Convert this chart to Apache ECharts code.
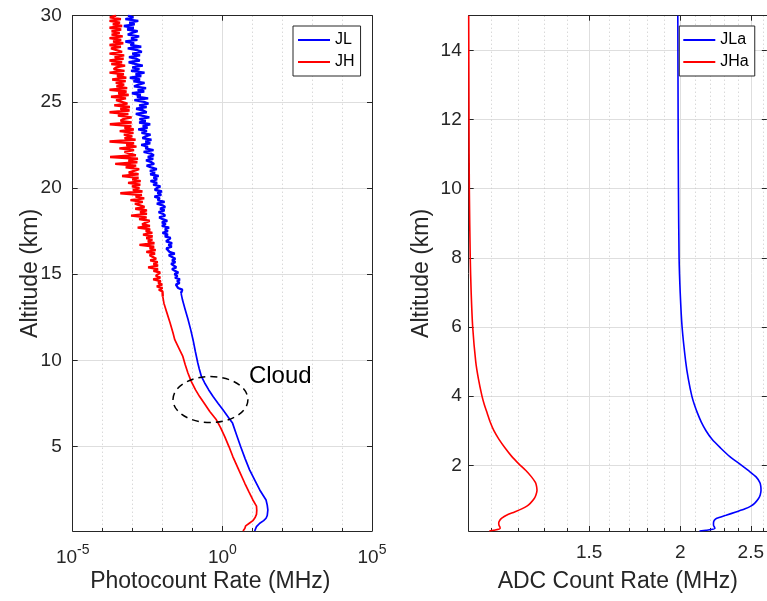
<!DOCTYPE html>
<html><head><meta charset="utf-8">
<script src="https://cdn.jsdelivr.net/npm/echarts@6/dist/echarts.min.js"></script>
<style>html,body{margin:0;padding:0;background:#fff}#c{width:767px;height:601px}</style>
</head><body><div id="c"></div><script>
// ---------- Left panel: photocount rate (MHz), values stored as log10 exponents ----------
const jlAltLow = [0.1,0.2,0.35,0.45,0.55,0.7,0.84,1.0,1.32,1.6,1.9,2.48,3.0,3.65,4.3,5.0,5.7,6.36,6.6,7.13,7.5,7.9,8.3,8.69,9.07,9.5,9.85,10.5,11.2,11.8,12.4,13.0,13.5,13.9];
const jlLog10Low = [1.08,1.11,1.14,1.17,1.25,1.38,1.46,1.50,1.52,1.50,1.46,1.25,1.10,0.91,0.76,0.61,0.47,0.34,0.24,0.02,-0.14,-0.31,-0.46,-0.59,-0.70,-0.77,-0.82,-0.90,-0.98,-1.06,-1.15,-1.25,-1.33,-1.38];
const jhAltLow = [0.1,0.25,0.4,0.55,0.7,0.9,1.06,1.3,1.54,1.9,2.4,2.87,3.6,4.42,5.0,5.58,6.1,6.55,7.03,7.5,7.9,8.3,8.78,9.27,9.75,10.23,10.7,11.2,11.6,12.2,12.8,13.3,13.7];
const jhLog10Low = [0.69,0.75,0.78,0.90,1.02,1.10,1.14,1.15,1.14,1.02,0.88,0.75,0.56,0.35,0.22,0.08,-0.06,-0.20,-0.42,-0.60,-0.76,-0.90,-1.04,-1.15,-1.24,-1.32,-1.45,-1.59,-1.65,-1.75,-1.86,-1.95,-1.99];
const altHigh = [14.0,14.1,14.2,14.3,14.4,14.5,14.6,14.7,14.8,14.9,15.0,15.1,15.2,15.3,15.4,15.5,15.6,15.7,15.8,15.9,16.0,16.1,16.2,16.3,16.4,16.5,16.6,16.7,16.8,16.9,17.0,17.1,17.2,17.3,17.4,17.5,17.6,17.7,17.8,17.9,18.0,18.1,18.2,18.3,18.4,18.5,18.6,18.7,18.8,18.9,19.0,19.1,19.2,19.3,19.4,19.5,19.6,19.7,19.8,19.9,20.0,20.1,20.2,20.3,20.4,20.5,20.6,20.7,20.8,20.9,21.0,21.1,21.2,21.3,21.4,21.5,21.6,21.7,21.8,21.9,22.0,22.1,22.2,22.3,22.4,22.5,22.6,22.7,22.8,22.9,23.0,23.1,23.2,23.3,23.4,23.5,23.6,23.7,23.8,23.9,24.0,24.1,24.2,24.3,24.4,24.5,24.6,24.7,24.8,24.9,25.0,25.1,25.2,25.3,25.4,25.5,25.6,25.7,25.8,25.9,26.0,26.1,26.2,26.3,26.4,26.5,26.6,26.7,26.8,26.9,27.0,27.1,27.2,27.3,27.4,27.5,27.6,27.7,27.8,27.9,28.0,28.1,28.2,28.3,28.4,28.5,28.6,28.7,28.8,28.9,29.0,29.1,29.2,29.3,29.4,29.5,29.6,29.7,29.8,29.9,30.0];
const jlLog10High = [
-1.40,-1.34,-1.48,-1.42,-1.55,-1.43,-1.51,-1.42,-1.58,-1.50,
-1.60,-1.47,-1.59,-1.68,-1.54,-1.60,-1.71,-1.57,-1.68,-1.57,
-1.63,-1.79,-1.59,-1.77,-1.72,-1.87,-1.69,-1.80,-1.68,-1.88,
-1.82,-1.73,-1.92,-1.82,-2.00,-1.82,-1.92,-1.78,-2.02,-1.89,
-2.02,-1.84,-1.99,-2.11,-1.91,-1.98,-2.13,-1.93,-2.08,-1.91,
-2.00,-2.19,-1.93,-2.16,-2.09,-2.27,-2.04,-2.17,-2.02,-2.26,
-2.18,-2.07,-2.31,-2.18,-2.40,-2.18,-2.30,-2.13,-2.41,-2.25,
-2.42,-2.19,-2.38,-2.53,-2.28,-2.37,-2.55,-2.31,-2.49,-2.29,
-2.39,-2.63,-2.30,-2.57,-2.49,-2.71,-2.41,-2.57,-2.37,-2.67,
-2.56,-2.40,-2.70,-2.52,-2.81,-2.50,-2.66,-2.41,-2.78,-2.56,
-2.77,-2.44,-2.69,-2.89,-2.53,-2.64,-2.88,-2.53,-2.78,-2.47,
-2.62,-2.94,-2.48,-2.85,-2.73,-3.02,-2.61,-2.83,-2.55,-2.95,
-2.80,-2.60,-2.97,-2.75,-3.09,-2.71,-2.90,-2.60,-3.05,-2.77,
-3.01,-2.66,-2.92,-3.13,-2.76,-2.87,-3.12,-2.75,-3.01,-2.69,
-2.85,-3.16,-2.71,-3.07,-2.95,-3.24,-2.84,-3.05,-2.78,-3.16,
-3.02,-2.83,-3.18,-2.96,-3.29,-2.93,-3.11,-2.81,-3.24,-2.97,
-3.15];
const jhLog10High = [
-2.00,-2.12,-2.00,-2.19,-2.01,-2.14,-2.06,-2.31,-2.07,-2.22,
-2.21,-2.08,-2.30,-2.15,-2.48,-2.15,-2.30,-2.16,-2.41,-2.21,
-2.20,-2.43,-2.25,-2.54,-2.23,-2.43,-2.28,-2.77,-2.27,-2.49,
-2.34,-2.54,-2.33,-2.65,-2.34,-2.56,-2.41,-2.83,-2.42,-2.68,
-2.64,-2.43,-2.78,-2.53,-3.05,-2.52,-2.75,-2.52,-2.91,-2.60,
-2.58,-2.92,-2.66,-3.07,-2.61,-2.90,-2.69,-3.41,-2.67,-2.99,
-2.77,-3.02,-2.74,-3.15,-2.73,-3.01,-2.80,-3.35,-2.80,-3.13,
-3.07,-2.78,-3.23,-2.88,-3.58,-2.84,-3.14,-2.82,-3.75,-2.89,
-2.87,-3.27,-2.95,-3.44,-2.87,-3.21,-2.95,-3.77,-2.90,-3.27,
-3.01,-3.29,-2.97,-3.43,-2.96,-3.27,-3.04,-3.76,-3.03,-3.40,
-3.32,-3.03,-3.49,-3.14,-3.77,-3.10,-3.41,-3.09,-3.61,-3.17,
-3.15,-3.55,-3.22,-3.72,-3.13,-3.48,-3.20,-3.77,-3.18,-3.54,
-3.28,-3.56,-3.23,-3.68,-3.21,-3.52,-3.29,-3.77,-3.27,-3.63,
-3.55,-3.25,-3.71,-3.35,-3.77,-3.30,-3.60,-3.28,-3.77,-3.35,
-3.32,-3.72,-3.39,-3.77,-3.31,-3.65,-3.38,-3.77,-3.33,-3.70,
-3.43,-3.70,-3.38,-3.77,-3.35,-3.66,-3.42,-3.77,-3.39,-3.76,
-3.55];

// ---------- Right panel: ADC count rate (MHz) ----------
const adcAlt = [0.1,0.12,0.17,0.22,0.265,0.33,0.41,0.47,0.555,0.65,0.74,0.82,0.9,1.04,1.15,1.28,1.4,1.5,1.665,1.85,2.05,2.25,2.5,2.75,3.0,3.25,3.5,3.75,4,4.5,5,6,7,8,10,12,15];
const jlaValues = [2.126,2.171,2.232,2.228,2.222,2.222,2.228,2.245,2.312,2.385,2.455,2.5,2.53,2.562,2.576,2.582,2.58,2.573,2.542,2.48,2.411,2.34,2.272,2.212,2.17,2.138,2.113,2.092,2.075,2.052,2.035,2.012,2.0,1.993,1.989,1.987,1.985];
const jhaValues = [1.094,1.109,1.132,1.131,1.128,1.127,1.131,1.138,1.155,1.185,1.212,1.232,1.245,1.261,1.268,1.272,1.27,1.266,1.25,1.228,1.2,1.175,1.15,1.128,1.11,1.097,1.087,1.077,1.069,1.057,1.048,1.038,1.033,1.03,1.027,1.026,1.025];

// ---------- Ticks ----------
const leftXTickExps = [-5, 0, 5];
const leftXMinorExps = [-4, -3, -2, -1, 1, 2, 3, 4];
const leftYTicks = [5, 10, 15, 20, 25, 30];
const rightXTicks = [1.5, 2, 2.5];
const rightXMinor = [1.1, 1.2, 1.3, 1.4, 1.6, 1.7, 1.8, 1.9, 2.1, 2.2, 2.3, 2.4, 2.6];
const rightYTicks = [2, 4, 6, 8, 10, 12, 14];

// ---------- Cloud annotation (data coords) ----------
const cloudXRange = [0.0224, 7.16];
const cloudAltRange = [6.39, 9.06];

const AX = '#262626';
const FONT = '"Liberation Sans", Arial, Helvetica, sans-serif';
const GRID_MAJOR = '#dedede';
const GRID_MINOR = '#c8c8c8';

function toPairs(alts, logs) { return alts.map((a, i) => [Math.pow(10, logs[i]), a]); }
const jlLowData = toPairs(jlAltLow, jlLog10Low);
const jhLowData = toPairs(jhAltLow, jhLog10Low);
// the noisy upper part starts from the last smooth point so the profile stays continuous
const jlHighData = [jlLowData[jlLowData.length - 1]].concat(toPairs(altHigh, jlLog10High));
const jhHighData = [jhLowData[jhLowData.length - 1]].concat(toPairs(altHigh, jhLog10High));
const jlaData = adcAlt.map((a, i) => [jlaValues[i], a]);
const jhaData = adcAlt.map((a, i) => [jhaValues[i], a]);

const leftXTicks = leftXTickExps.map(e => Math.pow(10, e));
const leftXMinor = leftXMinorExps.map(e => Math.pow(10, e));

const axisLine = { show: true, onZero: false, lineStyle: { color: AX, width: 1 } };
const tickStyle = { color: AX, width: 1 };

function mainX(grid, min, max, ticks, name, labelOpt, nameOpt) {
  return {
    type: 'log', logBase: 10, gridIndex: grid, position: 'bottom', min: min, max: max,
    axisLine: axisLine,
    axisTick: { show: true, inside: true, length: 5, customValues: ticks, lineStyle: tickStyle },
    axisLabel: Object.assign({ show: true, customValues: ticks, color: AX, fontSize: 19, fontFamily: FONT, margin: 12, hideOverlap: false, showMinLabel: true, showMaxLabel: true }, labelOpt),
    splitLine: { show: true, lineStyle: { color: GRID_MAJOR, width: 1 } },
    minorTick: { show: false }, splitArea: { show: false },
    name: name, nameLocation: 'middle', nameGap: 39, nameMoveOverlap: false,
    nameTextStyle: Object.assign({ color: AX, fontSize: 23, fontFamily: FONT }, nameOpt)
  };
}
function topX(grid, min, max, ticks) {
  return { type: 'log', logBase: 10, gridIndex: grid, position: 'top', min: min, max: max,
    axisLine: axisLine,
    axisTick: { show: true, inside: true, length: 5, customValues: ticks, lineStyle: tickStyle },
    axisLabel: { show: false }, splitLine: { show: false } };
}
function minorX(grid, min, max, ticks) {
  return { type: 'log', logBase: 10, gridIndex: grid, position: 'bottom', min: min, max: max,
    axisLine: { show: false },
    axisTick: { show: true, inside: true, length: 3, customValues: ticks, lineStyle: tickStyle },
    axisLabel: { show: false },
    splitLine: { show: true, lineStyle: { color: GRID_MINOR, width: 1, type: [1, 3] } } };
}
function mainY(grid, max, ticks, gap, margin) {
  return { type: 'value', gridIndex: grid, position: 'left', min: 0.1, max: max,
    axisLine: axisLine,
    axisTick: { show: true, inside: true, length: 5, customValues: ticks, lineStyle: tickStyle },
    axisLabel: { show: true, customValues: ticks, color: AX, fontSize: 19, fontFamily: FONT, margin: margin },
    splitLine: { show: true, lineStyle: { color: GRID_MAJOR, width: 1 } },
    name: 'Altitude (km)', nameLocation: 'middle', nameGap: gap, nameRotate: 90, nameMoveOverlap: false,
    nameTextStyle: { color: AX, fontSize: 23, fontFamily: FONT } };
}
function rightY(grid, max, ticks) {
  return { type: 'value', gridIndex: grid, position: 'right', min: 0.1, max: max,
    axisLine: axisLine,
    axisTick: { show: true, inside: true, length: 5, customValues: ticks, lineStyle: tickStyle },
    axisLabel: { show: false }, splitLine: { show: false } };
}

const powRich = {
  b: { fontSize: 19, fontFamily: FONT, color: AX, lineHeight: 24, verticalAlign: 'bottom' },
  s: { fontSize: 14, fontFamily: FONT, color: AX, lineHeight: 14, verticalAlign: 'top' }
};

function lineSeries(name, xi, yi, data, color, width, extra) {
  return Object.assign({ name: name, type: 'line', xAxisIndex: xi, yAxisIndex: yi, data: data,
    showSymbol: false, symbol: 'none', clip: true, color: color,
    lineStyle: { color: color, width: width } }, extra || {});
}

const option = {
  animation: false,
  backgroundColor: '#fff',
  textStyle: { fontFamily: FONT },
  grid: [
    { left: 72.7, top: 15.7, width: 299.3, height: 515.3, show: false },
    { left: 468.7, top: 15.7, width: 298.5, height: 515.3, show: false }
  ],
  legend: [
    { data: ['JL', 'JH'], orient: 'vertical', left: 293, top: 26, icon: 'rect', itemWidth: 32, itemHeight: 2,
      itemGap: 4, padding: [5, 6, 5, 5], borderColor: AX, borderWidth: 1, backgroundColor: '#fff',
      textStyle: { fontSize: 16, color: '#000', fontFamily: FONT, lineHeight: 18 }, selectedMode: false },
    { data: ['JLa', 'JHa'], orient: 'vertical', left: 679.3, top: 26, icon: 'rect', itemWidth: 32, itemHeight: 2,
      itemGap: 4, padding: [5, 6, 5, 4], borderColor: AX, borderWidth: 1, backgroundColor: '#fff',
      textStyle: { fontSize: 16, color: '#000', fontFamily: FONT, lineHeight: 18 }, selectedMode: false }
  ],
  xAxis: [
    mainX(0, 1e-5, 1e5, leftXTicks, 'Photocount Rate (MHz)', {
      formatter: v => '{b|10}{s|' + Math.round(Math.log10(v)) + '}', rich: powRich
    }, { padding: [0, 24, 0, 0] }),
    topX(0, 1e-5, 1e5, leftXTicks),
    minorX(0, 1e-5, 1e5, leftXMinor),
    mainX(1, 1.025, 2.63, rightXTicks, 'ADC Count Rate (MHz)', { formatter: v => String(v) }, {}),
    topX(1, 1.025, 2.63, rightXTicks),
    minorX(1, 1.025, 2.63, rightXMinor)
  ],
  yAxis: [
    mainY(0, 30, leftYTicks, 31, 11),
    rightY(0, 30, leftYTicks),
    mainY(1, 15, rightYTicks, 36, 7),
    rightY(1, 15, rightYTicks)
  ],
  series: [
    lineSeries('JL', 0, 0, jlLowData, '#0000ff', 1.7, { z: 3 }),
    lineSeries('JL', 0, 0, jlHighData, '#0000ff', 2.4, { z: 3 }),
    lineSeries('JH', 0, 0, jhLowData, '#ff0000', 1.7, { z: 4 }),
    lineSeries('JH', 0, 0, jhHighData, '#ff0000', 2.4, { z: 4 }),
    lineSeries('JLa', 3, 2, jlaData, '#0000ff', 1.6, { smooth: 0.25, z: 3 }),
    lineSeries('JHa', 3, 2, jhaData, '#ff0000', 1.6, { smooth: 0.25, z: 4 })
  ]
};

const chart = echarts.init(document.getElementById('c'), null, { renderer: 'canvas' });
chart.setOption(option);

// Cloud ellipse + label, positioned through the chart's own axes
const finder = { xAxisIndex: 0, yAxisIndex: 0 };
const pTL = chart.convertToPixel(finder, [cloudXRange[0], cloudAltRange[1]]);
const pBR = chart.convertToPixel(finder, [cloudXRange[1], cloudAltRange[0]]);
const cx = (pTL[0] + pBR[0]) / 2, cy = (pTL[1] + pBR[1]) / 2;
const rx = (pBR[0] - pTL[0]) / 2, ry = (pBR[1] - pTL[1]) / 2;
chart.setOption({
  graphic: [
    { type: 'ellipse', z: 50, shape: { cx: cx, cy: cy, rx: rx, ry: ry },
      style: { fill: null, stroke: '#000', lineWidth: 1.5, lineDash: [7, 5] } },
    { type: 'text', z: 50, x: pBR[0] + 1, y: pTL[1],
      style: { text: 'Cloud', fill: '#000', fontSize: 24, fontFamily: FONT, align: 'left', verticalAlign: 'middle' } }
  ]
});
</script></body></html>
